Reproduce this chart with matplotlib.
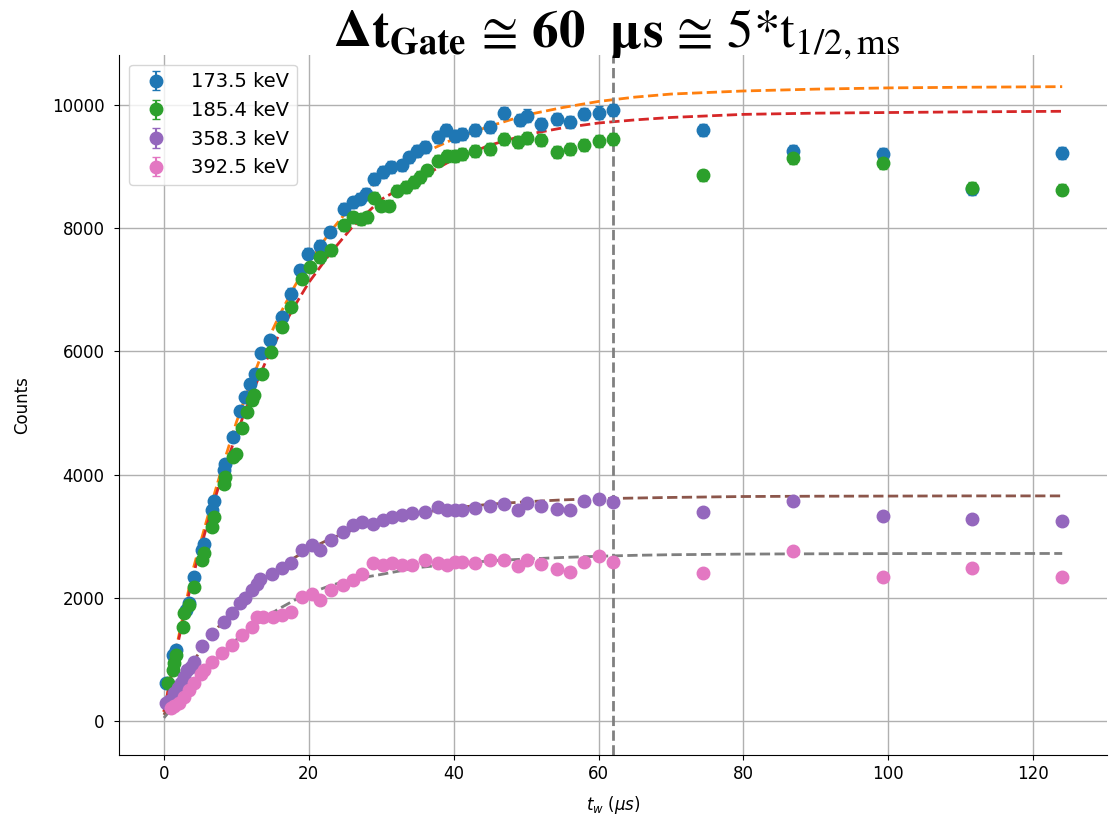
import numpy as np
import matplotlib
matplotlib.use("Agg")
import matplotlib.pyplot as plt

# ---------------- data ----------------
labels = ["173.5 keV", "185.4 keV", "358.3 keV", "392.5 keV"]

t_173 = [0.3, 1.2, 1.6, 3.0, 3.5, 4.2, 5.3, 5.5, 6.7, 6.9, 8.3, 8.4, 9.6, 10.5, 11.2,
         11.9, 12.6, 13.4, 14.6, 16.3, 17.6, 18.8, 19.9, 21.5, 22.9, 24.9, 26.1, 27.0,
         27.9, 29.0, 30.2, 31.3, 32.9, 33.8, 35.0, 36.1, 37.9, 38.9, 40.2, 41.1, 43.0,
         45.0, 47.0, 49.1, 50.1, 52.1, 54.2, 56.0, 58.0, 60.1, 62.0,
         74.4, 86.8, 99.2, 111.6, 124.0]
c_173 = [620, 1070, 1150, 1800, 1910, 2340, 2770, 2880, 3420, 3580, 4070, 4180, 4610, 5040, 5260,
         5480, 5640, 5970, 6180, 6560, 6940, 7320, 7590, 7720, 7940, 8320, 8420, 8480,
         8560, 8800, 8910, 8990, 9020, 9150, 9260, 9320, 9490, 9600, 9500, 9530, 9590,
         9640, 9870, 9760, 9830, 9700, 9780, 9720, 9860, 9880, 9920,
         9600, 9260, 9200, 8640, 9220]

t_185 = [0.5, 1.2, 1.4, 1.6, 2.6, 2.8, 3.5, 4.2, 5.3, 5.5, 6.7, 6.9, 8.3, 8.4, 9.6, 9.9,
         10.8, 11.5, 12.2, 12.4, 13.5, 14.8, 16.3, 17.6, 19.0, 20.1, 21.5, 23.1, 24.9,
         26.1, 27.2, 28.1, 29.0, 29.9, 31.1, 32.2, 33.4, 34.5, 35.4, 36.3, 37.9, 39.1,
         40.2, 41.1, 43.0, 45.0, 47.0, 48.9, 50.1, 52.1, 54.2, 56.0, 58.0, 60.1, 62.0,
         74.4, 86.8, 99.2, 111.6, 124.0]
c_185 = [610, 830, 940, 1070, 1530, 1750, 1880, 2180, 2610, 2720, 3150, 3310, 3850, 3960, 4290, 4340,
         4750, 5020, 5210, 5290, 5640, 5990, 6400, 6720, 7180, 7370, 7530, 7640, 8050,
         8180, 8150, 8180, 8500, 8370, 8370, 8610, 8670, 8750, 8830, 8940, 9100, 9180,
         9180, 9210, 9260, 9290, 9450, 9400, 9470, 9440, 9240, 9290, 9360, 9410, 9450,
         8860, 9140, 9060, 8660, 8630]

t_358 = [0.3, 0.7, 1.4, 1.9, 2.3, 2.8, 3.2, 3.7, 4.2, 5.3, 6.7, 8.3, 9.4, 10.5, 11.2, 12.2,
         12.8, 13.3, 14.9, 16.3, 17.6, 19.0, 20.4, 21.5, 23.1, 24.7, 26.1, 27.4, 28.8,
         30.2, 31.5, 32.9, 34.3, 36.1, 37.9, 39.1, 40.2, 41.1, 43.0, 45.0, 47.0, 48.9,
         50.1, 52.1, 54.2, 56.0, 58.0, 60.1, 62.0,
         74.4, 86.8, 99.2, 111.6, 124.0]
c_358 = [290, 330, 450, 540, 610, 720, 830, 880, 960, 1210, 1420, 1610, 1750, 1910, 1990, 2120,
         2230, 2310, 2390, 2480, 2560, 2770, 2850, 2770, 2940, 3070, 3180, 3230, 3200,
         3260, 3310, 3340, 3370, 3400, 3480, 3430, 3430, 3430, 3460, 3490, 3520, 3430,
         3540, 3490, 3450, 3430, 3570, 3600, 3560,
         3400, 3580, 3330, 3280, 3240]

t_392 = [1.0, 1.4, 2.1, 2.8, 3.5, 4.2, 5.1, 5.5, 6.7, 8.0, 9.4, 10.8, 12.2, 12.8, 13.7,
         15.1, 16.3, 17.6, 19.0, 20.4, 21.5, 23.1, 24.7, 26.1, 27.4, 28.8, 30.2, 31.5,
         32.9, 34.3, 36.1, 37.9, 39.1, 40.2, 41.1, 43.0, 45.0, 47.0, 48.9, 50.1, 52.1,
         54.2, 56.0, 58.0, 60.1, 62.0,
         74.4, 86.8, 99.2, 111.6, 124.0]
c_392 = [210, 250, 290, 390, 500, 610, 770, 830, 960, 1100, 1230, 1400, 1530, 1690, 1690,
         1690, 1720, 1770, 2020, 2070, 1960, 2120, 2210, 2290, 2390, 2560, 2530, 2560,
         2530, 2530, 2610, 2570, 2530, 2580, 2580, 2560, 2610, 2610, 2510, 2610, 2550,
         2470, 2420, 2580, 2680, 2580,
         2410, 2760, 2330, 2480, 2330]

# fitted curves
t_fit = [0, 2, 4, 6, 8, 10, 12, 14, 16, 18, 20, 23, 26, 30, 35, 40, 45, 50, 55, 60,
         65, 70, 80, 90, 100, 110, 124]
fit_173 = [150, 1350, 2450, 3300, 4100, 4850, 5500, 6100, 6600, 7050, 7450, 7950, 8380,
           8830, 9180, 9450, 9660, 9840, 9960, 10060, 10130, 10180, 10230, 10260, 10280,
           10290, 10300]
fit_185 = [150, 1300, 2350, 3200, 3980, 4650, 5280, 5820, 6300, 6730, 7120, 7600, 8020,
           8470, 8800, 9120, 9350, 9520, 9630, 9710, 9760, 9800, 9850, 9870, 9880, 9890, 9900]
fit_358 = [100, 560, 960, 1300, 1600, 1870, 2100, 2300, 2480, 2650, 2790, 2960, 3100,
           3240, 3370, 3460, 3520, 3560, 3590, 3610, 3620, 3630, 3645, 3650, 3652, 3655, 3655]
fit_392 = [50, 330, 600, 860, 1100, 1320, 1520, 1690, 1830, 1960, 2070, 2200, 2300,
           2380, 2490, 2550, 2600, 2630, 2655, 2675, 2690, 2700, 2710, 2715, 2718, 2720, 2720]

t_gate = 62.0

x_ticks = [0, 20, 40, 60, 80, 100, 120]
y_ticks = [0, 2000, 4000, 6000, 8000, 10000]

# ---------------- plotting ----------------
fig = plt.figure(figsize=(11.09, 8.17), dpi=100)
ax = fig.add_axes([0.1073, 0.0759, 0.891, 0.857])

series = [(t_173, c_173, "C0"), (t_185, c_185, "C2"), (t_358, c_358, "C4"), (t_392, c_392, "C6")]
for (t, c, col), lab in zip(series, labels):
    c = np.asarray(c, dtype=float)
    ax.errorbar(t, c, yerr=np.sqrt(c), fmt="o", color=col, markersize=9,
                capsize=3, label=lab, zorder=3)

for f, col in zip([fit_173, fit_185, fit_358, fit_392], ["C1", "C3", "C5", "C7"]):
    ax.plot(t_fit, f, "--", color=col, lw=2, zorder=2)

ax.axvline(t_gate, color="gray", ls="--", lw=2, zorder=2)

ax.set_xlim(-6.2, 130.2)
ax.set_ylim(-552, 10817)
ax.set_xticks(x_ticks)
ax.set_yticks(y_ticks)
ax.tick_params(labelsize=12)
ax.tick_params(axis="y", pad=7)
ax.grid(True, color="#b0b0b0", lw=1)
ax.set_axisbelow(True)
ax.spines["top"].set_visible(False)
ax.spines["right"].set_visible(False)
ax.set_xlabel(r"$t_w$ ($\mu s$)", fontsize=12, labelpad=8)
ax.set_ylabel("Counts", fontsize=12, labelpad=15)
ax.legend(loc="upper left", fontsize=14)

fig.text(0.556, (817 - 47) / 817,
         r"$\mathbf{\Delta t_{Gate}}\,\cong\,\mathbf{60\ \ \mu s}\,\cong\,5{*}\mathrm{t}_{1/2,\mathrm{ms}}$",
         ha="center", va="baseline", fontsize=38, math_fontfamily="stix")

fig.savefig("out.png", dpi=100)
